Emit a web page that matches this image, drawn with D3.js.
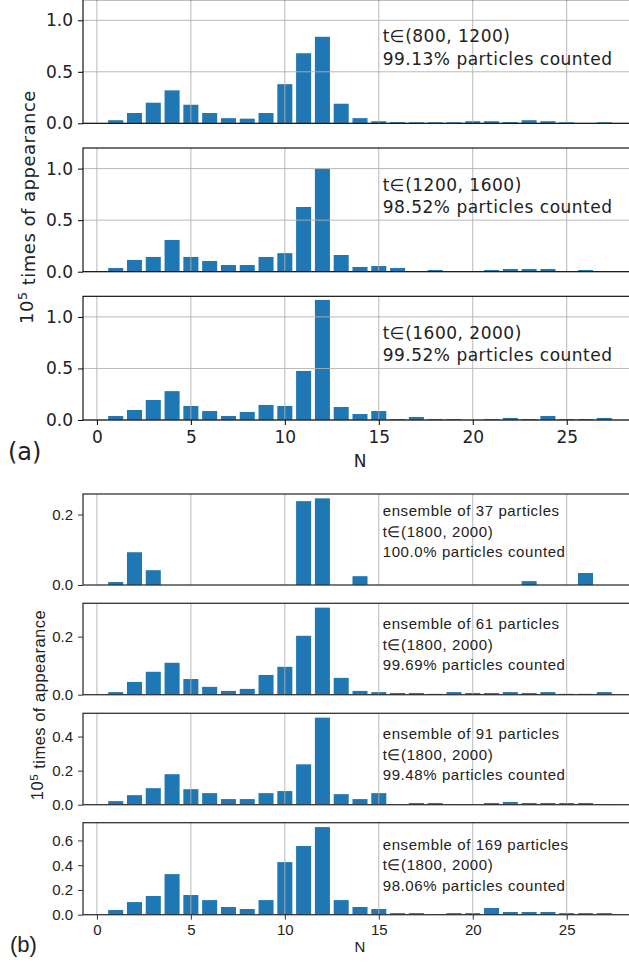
<!DOCTYPE html>
<html>
<head>
<meta charset="utf-8">
<script src="https://cdn.jsdelivr.net/npm/d3@7"></script>
<style>
  body { margin: 0; background: #fff; }
  svg { display: block; }
</style>
</head>
<body>
<div id="chart"></div>
<script>

// Figure size (cropped figure, right edge of the axes falls off the canvas)
const width = 629;
const height = 966;

// Number of neighbours N on the x axis
const nValues = d3.range(1, 28);

// (a) time windows, 10^5 times of appearance
const countsA1 = [0.03, 0.10, 0.20, 0.32, 0.18, 0.10, 0.05, 0.045, 0.10, 0.38, 0.68, 0.84, 0.19, 0.05,
                  0.02, 0.012, 0.01, 0.01, 0.01, 0.02, 0.02, 0.012, 0.03, 0.02, 0.01, 0, 0.01];
const countsA2 = [0.036, 0.114, 0.143, 0.308, 0.143, 0.104, 0.065, 0.065, 0.143, 0.18, 0.628, 1.0, 0.162, 0.046,
                  0.055, 0.036, 0, 0.016, 0, 0, 0.016, 0.026, 0.026, 0.026, 0, 0.016, 0];
const countsA3 = [0.039, 0.097, 0.194, 0.28, 0.136, 0.087, 0.039, 0.078, 0.146, 0.136, 0.476, 1.165, 0.126, 0.058,
                  0.087, 0.01, 0.029, 0.01, 0.01, 0, 0.01, 0.02, 0.01, 0.039, 0.01, 0.01, 0.02];

// (b) ensembles of different size
const countsB1 = [0.0085, 0.093, 0.042, 0, 0, 0, 0, 0, 0, 0, 0.238, 0.246, 0, 0.025,
                  0, 0, 0, 0, 0, 0, 0, 0, 0.011, 0, 0, 0.034, 0];
const countsB2 = [0.009, 0.044, 0.079, 0.11, 0.054, 0.027, 0.013, 0.02, 0.068, 0.096, 0.203, 0.30, 0.058, 0.013,
                  0.009, 0.006, 0.006, 0.003, 0.009, 0.006, 0.006, 0.009, 0.006, 0.009, 0.003, 0.003, 0.009];
const countsB3 = [0.021, 0.056, 0.097, 0.179, 0.091, 0.068, 0.033, 0.033, 0.068, 0.08, 0.237, 0.511, 0.062, 0.033,
                  0.068, 0.004, 0.01, 0.01, 0.004, 0.004, 0.01, 0.016, 0.01, 0.01, 0.01, 0.01, 0.004];
const countsB4 = [0.038, 0.102, 0.151, 0.328, 0.159, 0.118, 0.062, 0.046, 0.118, 0.425, 0.555, 0.708, 0.118, 0.062,
                  0.046, 0.013, 0.013, 0.005, 0.013, 0.013, 0.054, 0.022, 0.022, 0.022, 0.013, 0.013, 0.013];

// Tick labels and annotations
const xTicks = [0, 5, 10, 15, 20, 25];
const yTicksA = [0, 0.5, 1.0];
const yTicksB = [[0, 0.2], [0, 0.2], [0, 0.2, 0.4], [0, 0.2, 0.4, 0.6]];
const windowsA = ["t\u2208(800, 1200)", "t\u2208(1200, 1600)", "t\u2208(1600, 2000)"];
const countedA = ["99.13% particles counted", "98.52% particles counted", "99.52% particles counted"];
const ensemblesB = ["ensemble of 37 particles", "ensemble of 61 particles", "ensemble of 91 particles", "ensemble of 169 particles"];
const windowB = "t\u2208(1800, 2000)";
const countedB = ["100.0% particles counted", "99.69% particles counted", "99.48% particles counted", "98.06% particles counted"];

// Where each axes box sits (pixels)
const axLeft = 83;
const axRight = 637;
const boxesA = [{top: -0.3, bottom: 123.3}, {top: 148, bottom: 271.7}, {top: 296.3, bottom: 420}];
const boxesB = [{top: 494, bottom: 585}, {top: 603.3, bottom: 694.7}, {top: 713.3, bottom: 804.7}, {top: 822.7, bottom: 914.7}];

const barColor = "#1f77b4";
const gridColor = "#b0b0b0";
const fontA = "DejaVu Sans, sans-serif";
const fontB = "Liberation Sans, Arial, sans-serif";

const svg = d3.select("#chart")
  .append("svg")
  .attr("width", width)
  .attr("height", height)
  .attr("viewBox", [0, 0, width, height]);

// shared x scale, matplotlib auto limits for bars 1..27 of width 0.8
const xScale = d3.scaleLinear()
  .domain([-0.74, 28.74])
  .range([axLeft, axRight]);

// draws one histogram panel
function drawPanel(opts) {
  const g = svg.append("g");
  const yScale = d3.scaleLinear()
    .domain([0, opts.yMax])
    .range([opts.box.bottom, opts.box.top]);

  // bars
  g.selectAll(".bar")
    .data(nValues.map((n, i) => ({n: n, v: opts.values[i]})))
    .enter()
    .append("rect")
      .attr("class", "bar")
      .attr("x", d => xScale(d.n - 0.4))
      .attr("y", d => yScale(d.v))
      .attr("width", xScale(0.8) - xScale(0))
      .attr("height", d => yScale(0) - yScale(d.v))
      .attr("fill", barColor);

  // vertical grid
  g.selectAll(".xgrid")
    .data(xTicks)
    .enter()
    .append("line")
      .attr("x1", d => xScale(d)).attr("x2", d => xScale(d))
      .attr("y1", opts.box.top).attr("y2", opts.box.bottom)
      .attr("stroke", gridColor)
      .attr("stroke-width", 0.9);

  // horizontal grid only in (a)
  if (opts.yGrid) {
    g.selectAll(".ygrid")
      .data(opts.yTicks)
      .enter()
      .append("line")
        .attr("x1", axLeft).attr("x2", axRight)
        .attr("y1", d => yScale(d)).attr("y2", d => yScale(d))
        .attr("stroke", gridColor)
        .attr("stroke-width", 0.9);
  }

  // y axis
  const yAxis = g.append("g")
    .attr("transform", `translate(${axLeft},0)`)
    .call(d3.axisLeft(yScale).tickValues(opts.yTicks).tickFormat(d3.format(".1f"))
      .tickSize(5).tickPadding(opts.pad));
  yAxis.select(".domain").remove();
  yAxis.selectAll("text")
    .attr("font-family", opts.font)
    .attr("font-size", opts.tickSize)
    .attr("fill", "#222");
  yAxis.selectAll("line").attr("stroke", opts.spine);

  // x axis labels on the bottom panel only
  if (opts.xLabels) {
    const xAxis = g.append("g")
      .attr("transform", `translate(0,${opts.box.bottom})`)
      .call(d3.axisBottom(xScale).tickValues(xTicks).tickFormat(d3.format("d"))
        .tickSize(5).tickPadding(opts.xPad));
    xAxis.select(".domain").remove();
    xAxis.selectAll("text")
      .attr("font-family", opts.font)
      .attr("font-size", opts.tickSize)
      .attr("fill", "#222");
    xAxis.selectAll("line").attr("stroke", opts.spine);
  }

  // frame
  g.append("rect")
    .attr("x", axLeft)
    .attr("y", opts.box.top)
    .attr("width", axRight - axLeft)
    .attr("height", opts.box.bottom - opts.box.top)
    .attr("fill", "none")
    .attr("stroke", opts.spine)
    .attr("stroke-width", opts.spineWidth);

  // annotation
  const txt = g.append("text")
    .attr("font-family", opts.font)
    .attr("font-size", opts.textSize)
    .attr("letter-spacing", opts.spacing)
    .attr("fill", "#222");
  opts.lines.forEach((line, i) => {
    txt.append("tspan")
      .attr("x", 382.7)
      .attr("y", opts.box.top + opts.textTop + i * opts.lineGap)
      .text(line);
  });
}

// (a) panels
[countsA1, countsA2, countsA3].forEach((values, i) => {
  drawPanel({
    values: values, box: boxesA[i], yMax: 1.2, yTicks: yTicksA, yGrid: true,
    xLabels: i === 2, font: fontA, tickSize: "17px", pad: 5, xPad: 6,
    spine: "#000", spineWidth: 1.1,
    lines: [windowsA[i], countedA[i]], textSize: "17px", spacing: 0.5,
    textTop: 42.5, lineGap: 22.5
  });
});

// (b) panels, y limits auto from the max bar like matplotlib
const countsB = [countsB1, countsB2, countsB3, countsB4];
const textTopB = [22, 26, 26, 27];
countsB.forEach((values, i) => {
  drawPanel({
    values: values, box: boxesB[i], yMax: d3.max(values) * 1.05, yTicks: yTicksB[i], yGrid: false,
    xLabels: i === 3, font: fontB, tickSize: "15px", pad: 5, xPad: 5,
    spine: "#333", spineWidth: 1.3,
    lines: [ensemblesB[i], windowB, countedB[i]], textSize: "15px", spacing: 0.6,
    textTop: textTopB[i], lineGap: 20.5
  });
});

// axis titles
function yTitle(x, y, font, size) {
  const t = svg.append("text")
    .attr("transform", `translate(${x},${y}) rotate(-90)`)
    .attr("text-anchor", "middle")
    .attr("font-family", font)
    .attr("font-size", size)
    .attr("letter-spacing", 0.5)
    .attr("fill", "#222");
  t.append("tspan").text("10");
  t.append("tspan").attr("font-size", "70%").attr("dy", "-0.45em").text("5");
  t.append("tspan").attr("dy", "0.45em").text(" times of appearance");
}
yTitle(33, 207, fontA, "18px");
yTitle(43, 705, fontB, "16.5px");

svg.append("text")
  .attr("x", 360).attr("y", 467)
  .attr("text-anchor", "middle")
  .attr("font-family", fontA).attr("font-size", "17px").attr("fill", "#222")
  .text("N");
svg.append("text")
  .attr("x", 360).attr("y", 952)
  .attr("text-anchor", "middle")
  .attr("font-family", fontB).attr("font-size", "15px").attr("fill", "#222")
  .text("N");

// panel letters
svg.append("text")
  .attr("x", 8).attr("y", 460)
  .attr("font-family", fontA).attr("font-size", "24px").attr("fill", "#222")
  .text("(a)");
svg.append("text")
  .attr("x", 10).attr("y", 952)
  .attr("font-family", fontB).attr("font-size", "22px").attr("fill", "#222")
  .text("(b)");

</script>
</body>
</html>
